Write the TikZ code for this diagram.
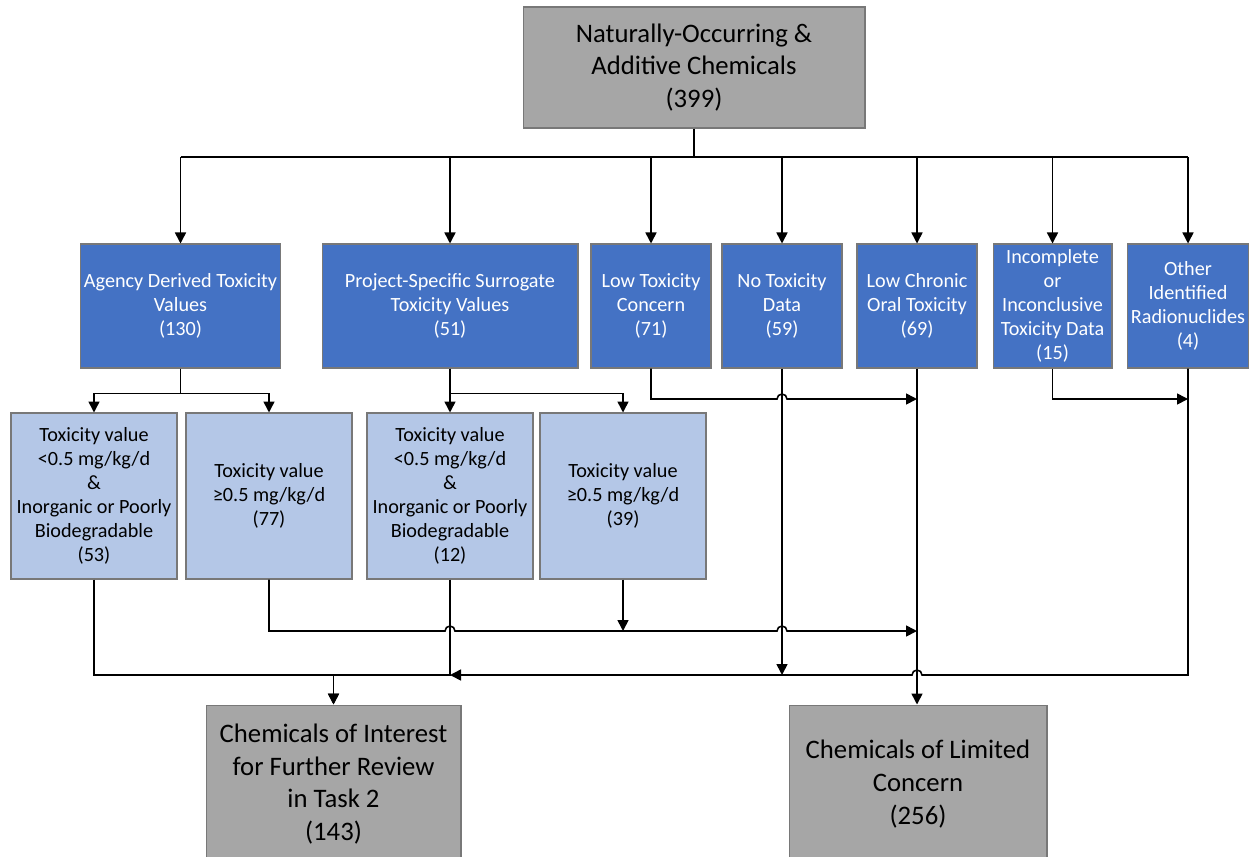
\documentclass[tikz,border=0pt]{standalone}
\usepackage{fontspec}
\setmainfont{Carlito}
\usetikzlibrary{arrows.meta}
\definecolor{boxgray}{RGB}{166,166,166}
\definecolor{boxblue}{RGB}{68,114,196}
\definecolor{boxpale}{RGB}{180,199,231}
\definecolor{edgegray}{RGB}{120,120,120}
\tikzset{
    cell/.style={draw=edgegray, line width=0.6pt, align=center, inner sep=2pt},
    graybox/.style={cell, fill=boxgray, font=\fontsize{15.2}{18.7}\selectfont},
    bluebox/.style={cell, fill=boxblue, text=white, minimum height=2.48cm,
        font=\fontsize{11.5}{13.7}\selectfont},
    palebox/.style={cell, fill=boxpale, minimum width=3.32cm,
        minimum height=3.32cm, font=\fontsize{11.5}{13.7}\selectfont},
    wire/.style={line width=0.9pt},
    flow/.style={wire, -{Triangle[length=2.2mm, width=2.2mm]}},
    hopr/.style={insert path={arc[start angle=180, end angle=0, radius=0.1cm]}},
    hopl/.style={insert path={arc[start angle=0, end angle=180, radius=0.1cm]}},
}

\begin{document}
\begin{tikzpicture}[x=0.02cm, y=-0.02cm]
    \useasboundingbox (0,0) rectangle (1250,856);

    % source
    \node[graybox, minimum width=6.84cm, minimum height=2.42cm] (src) at (694,67.5)
        {Naturally-Occurring \&\\Additive Chemicals\\(399)};

    % first split
    \node[bluebox, minimum width=3.98cm] (agency) at (180.5,306)
        {Agency Derived Toxicity\\Values\\(130)};
    \node[bluebox, minimum width=5.12cm] (surr) at (450,306)
        {Project-Specific Surrogate\\Toxicity Values\\(51)};
    \node[bluebox, minimum width=2.4cm] (lowtox) at (651,306)
        {Low Toxicity\\Concern\\(71)};
    \node[bluebox, minimum width=2.4cm] (nodata) at (782,306)
        {No Toxicity\\Data\\(59)};
    \node[bluebox, minimum width=2.4cm] (chronic) at (917,306)
        {Low Chronic\\Oral Toxicity\\(69)};
    \node[bluebox, minimum width=2.38cm] (incompl) at (1052.5,306)
        {Incomplete\\or\\Inconclusive\\Toxicity Data\\(15)};
    \node[bluebox, minimum width=2.4cm] (radio) at (1188,306)
        {Other\\Identified\\Radionuclides\\(4)};

    % toxicity value split
    \node[palebox] (agencylo) at (94,496)
        {Toxicity value\\<0.5 mg/kg/d\\\&\\Inorganic or Poorly\\Biodegradable\\(53)};
    \node[palebox] (agencyhi) at (269,496)
        {Toxicity value\\≥0.5 mg/kg/d\\(77)};
    \node[palebox] (surrlo) at (450,496)
        {Toxicity value\\<0.5 mg/kg/d\\\&\\Inorganic or Poorly\\Biodegradable\\(12)};
    \node[palebox] (surrhi) at (623,496)
        {Toxicity value\\≥0.5 mg/kg/d\\(39)};

    % outcomes
    \node[graybox, minimum width=5.1cm, minimum height=3.16cm] (interest) at (333.5,784)
        {Chemicals of Interest\\for Further Review\\in Task 2\\(143)};
    \node[graybox, minimum width=5.16cm, minimum height=3.16cm] (limited) at (918,784)
        {Chemicals of Limited\\Concern\\(256)};

    % source to first split
    \coordinate (bus) at (694,157);
    \draw[wire] (src.south) -- (bus);
    \draw[wire] (bus -| agency.north) -- (bus -| radio.north);
    \foreach \n in {agency, surr, lowtox, nodata, chronic, incompl, radio}
        \draw[flow] (bus -| \n.north) -- (\n.north);

    % toxicity value split
    \draw[flow] (agency.south) -- ++(0,25) -| (agencylo.north);
    \draw[flow] (agency.south) -- ++(0,25) -| (agencyhi.north);
    \draw[flow] (surr.south) -- ++(0,25) -| (surrlo.north);
    \draw[flow] (surr.south) -- ++(0,25) -| (surrhi.north);

    % to limited concern
    \draw[flow] (lowtox.south) -- (651,399) -- (777,399) [hopr] -- (chronic.south |- 0,399);
    \draw[flow] (incompl.south) -- (1052.5,399) -- (radio.south |- 0,399);
    \draw[flow] (agencyhi.south) -- (269,631) -- (445,631) [hopr] -- (777,631) [hopr]
        -- (chronic.south |- 0,631);
    \draw[flow] (surrhi.south) -- (623,631);
    \draw[flow] (nodata.south) -- (782,675);
    \draw[flow] (chronic.south) -- (chronic.south |- limited.north);

    % to interest
    \draw[flow] (radio.south) -- (1188,675) -- (922,675) [hopl] -- (surrlo.south |- 0,675);
    \draw[flow] (agencylo.south) -- (94,675) -| (interest.north);
    \draw[flow] (surrlo.south) -- (450,675) -| (interest.north);
\end{tikzpicture}
\end{document}
